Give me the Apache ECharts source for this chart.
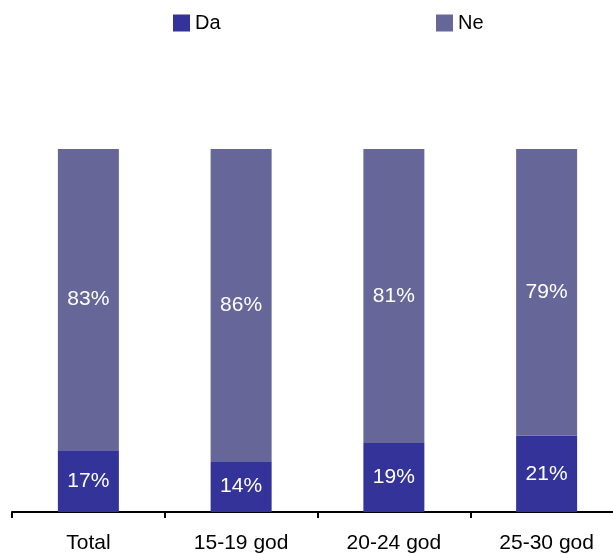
<!DOCTYPE html>
<html>
<head>
<meta charset="utf-8">
<script src="https://cdn.jsdelivr.net/npm/echarts@6/dist/echarts.min.js"></script>
<style>
html, body { margin: 0; padding: 0; background: #fff; }
#chart { width: 613px; height: 554px; }
</style>
</head>
<body>
<div id="chart"></div>
<script>
// kategorije i vrijednosti (postoci)
var categories = ['Total', '15-19 god', '20-24 god', '25-30 god'];
var daValues = [17, 14, 19, 21];
var neValues = [83, 86, 81, 79];

var myChart = echarts.init(document.getElementById('chart'));

var labelStyle = {
    show: true,
    position: 'inside',
    color: '#fff',
    fontSize: 21,
    fontFamily: 'Liberation Sans',
    formatter: '{c}%'
};

var legendText = { color: '#000', fontSize: 20, fontFamily: 'Liberation Sans' };

var option = {
    animation: false,
    legend: [
        { data: ['Da'], icon: 'rect', left: 173, top: 13, itemWidth: 17, itemHeight: 17, itemGap: 2, textStyle: legendText, padding: 0 },
        { data: ['Ne'], icon: 'rect', left: 436, top: 13, itemWidth: 17, itemHeight: 17, itemGap: 2, textStyle: legendText, padding: 0 }
    ],
    grid: { left: 12, width: 611, top: 149, bottom: 42, containLabel: false, outerBoundsMode: 'none' },
    xAxis: {
        type: 'category',
        data: categories,
        axisLine: { lineStyle: { color: '#000', width: 2 } },
        axisTick: { show: true, length: 6, lineStyle: { color: '#000', width: 2 } },
        axisLabel: { color: '#000', fontSize: 21, fontFamily: 'Liberation Sans', margin: 21 }
    },
    yAxis: { type: 'value', min: 0, max: 100, show: false, splitLine: { show: false } },
    series: [
        {
            name: 'Da', type: 'bar', stack: 'a', data: daValues, barWidth: 61,
            itemStyle: { color: '#333399' }, label: labelStyle
        },
        {
            name: 'Ne', type: 'bar', stack: 'a', data: neValues, barWidth: 61,
            itemStyle: { color: '#666699' }, label: labelStyle
        }
    ]
};

myChart.setOption(option);
</script>
</body>
</html>
